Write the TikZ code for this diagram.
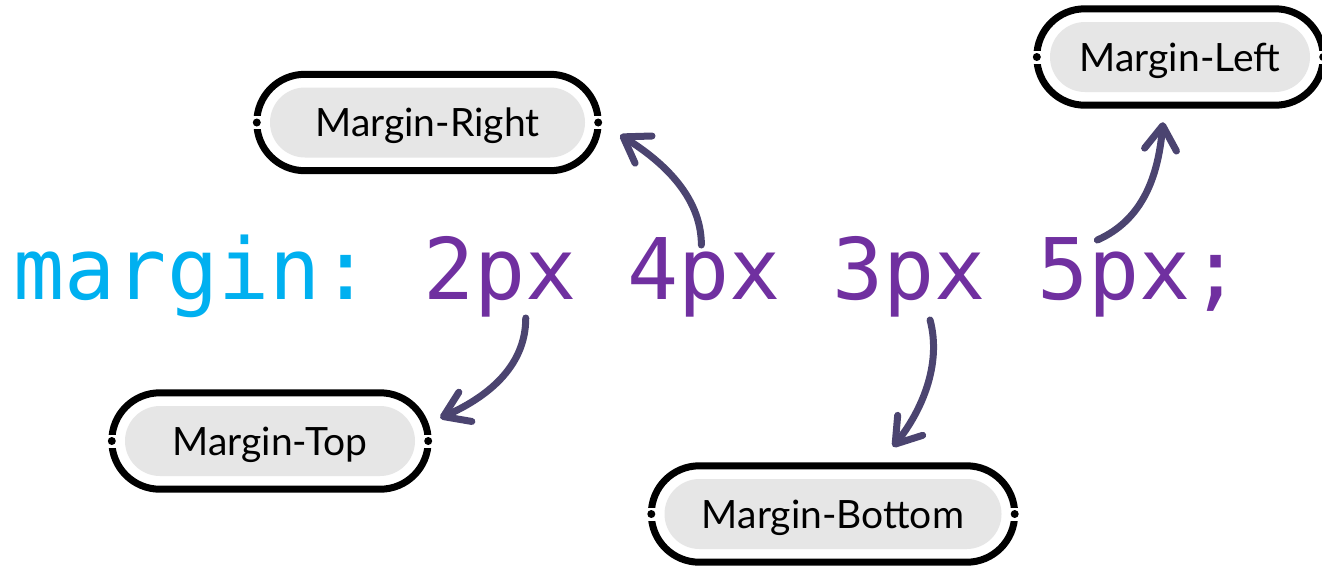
\documentclass[tikz,border=0pt]{standalone}
\usepackage{fontspec}
\usetikzlibrary{arrows.meta}
\newfontfamily\codefont{DejaVu Sans Mono}
\newfontfamily\labfont{Lato}
\definecolor{kwcyan}{RGB}{0,176,240}
\definecolor{valpurple}{RGB}{112,48,160}
\definecolor{arrowc}{RGB}{75,68,112}
\definecolor{pillgray}{RGB}{230,230,230}
\tikzset{
  code/.style={inner sep=0pt, anchor=base west, font=\codefont\fontsize{85}{85}\selectfont},
  pill/.style={rectangle, rounded corners=35pt, fill=pillgray, minimum height=70pt, inner sep=0pt,
    text height=28pt, text depth=0pt, font=\labfont\fontsize{39}{39}\selectfont, text=black},
  ring/.style={draw=black, line width=7pt, rounded corners=48pt},
  ptr/.style={draw=arrowc, line width=7pt, line cap=round,
    -{Straight Barb[length=24pt, width=32pt, round]}},
}
\newcommand\ringaround[1]{%
  \draw[ring] ([shift={(-13,13)}]#1.north west) rectangle ([shift={(13,-13)}]#1.south east);
  \fill[white] ([shift={(-19,-6.5)}]#1.west) rectangle ([shift={(-7,6.5)}]#1.west);
  \fill[white] ([shift={(7,-6.5)}]#1.east) rectangle ([shift={(19,6.5)}]#1.east);
  \fill[black] ([xshift=-13]#1.west) circle (4);
  \fill[black] ([xshift=13]#1.east) circle (4);
}
\begin{document}
\begin{tikzpicture}[x=1pt,y=1pt]
\path[use as bounding box, fill=white] (0,0) rectangle (1322,-566);

% code line
\node[code, text=kwcyan] (kw) at (13.4,-299) {margin:};
\node[code, text=valpurple] (v2) at (422.8,-299) {2px};
\node[code, text=valpurple] (v4) at (627.4,-299) {4px};
\node[code, text=valpurple] (v3) at (832.1,-299) {3px};
\node[code, text=valpurple] (v5) at (1036.8,-299) {5px;};

% labels
\node[pill, minimum width=315pt] (right) at (427.5,-122.5) {Margin-Right};
\node[pill, minimum width=260pt] (left) at (1180,-57) {Margin-Left};
\node[pill, minimum width=290pt] (top) at (270,-441) {Margin-Top};
\node[pill, minimum width=337pt] (bottom) at (833,-514) {Margin-Bottom};
\ringaround{right}
\ringaround{left}
\ringaround{top}
\ringaround{bottom}

% arrows
\draw[ptr] ([shift={(26,-19)}]v2.base) .. controls +(0,-50) and +(45,20) .. ([shift={(25,23)}]top.east);
\draw[ptr] ([shift={(-3,54)}]v4.base) .. controls +(0,50) and +(40,-25) .. ([shift={(35,-12.5)}]right.east);
\draw[ptr] ([shift={(21,-21)}]v3.base) .. controls +(12,-45) and +(28,35) .. ([shift={(60,32)}]bottom.north);
\draw[ptr] ([shift={(-42,59)}]v5.base) .. controls +(45,20) and +(-5,-55) .. ([shift={(-17,-30)}]left.south);
\end{tikzpicture}
\end{document}
